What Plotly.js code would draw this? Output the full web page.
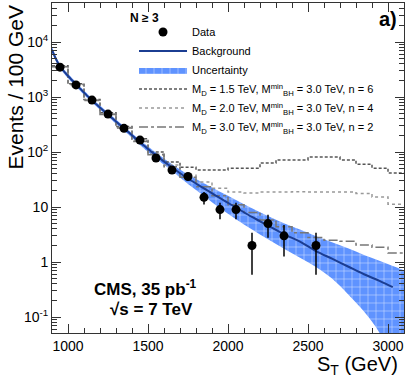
<!DOCTYPE html>
<html>
<head>
<meta charset="utf-8">
<script src="https://cdn.plot.ly/plotly-3.0.1.min.js"></script>
<style>
  html, body { margin: 0; padding: 0; background: #fff; }
  #chart { width: 407px; height: 384px; }
</style>
</head>
<body>
<div id="chart"></div>
<script>
// data points (bin centres, events per 100 GeV)
var dataX = [950, 1050, 1150, 1250, 1350, 1450, 1550, 1650, 1750, 1850, 1950, 2050, 2150, 2250, 2350, 2550];
var dataY = [3500, 1660, 880, 490, 270, 165, 78, 47, 36, 15, 9, 9, 2, 5, 3, 2];

// background fit and its uncertainty
var bkgX = [900, 950, 1050, 1150, 1250, 1350, 1450, 1550, 1650, 1750, 1850, 1950, 2050, 2150, 2250, 2350, 2450, 2550, 2650, 2750, 2850, 2950, 3030];
var bkgY = [7240, 3630, 1700, 870, 480, 270, 151, 87, 52.5, 33, 21.9, 14.5, 9.8, 6.6, 4.6, 3.2, 2.35, 1.58, 1.15, 0.83, 0.60, 0.45, 0.35];
var bandX = [900, 950, 1050, 1150, 1250, 1350, 1450, 1550, 1650, 1750, 1850, 1950, 2050, 2150, 2250, 2350, 2450, 2550, 2650, 2750, 2850, 2950, 3030, 3100];
var bandHi = [8130, 3980, 1860, 955, 525, 295, 166, 98, 60, 39, 27, 19, 13.5, 9.5, 6.9, 5.1, 3.9, 2.95, 2.3, 1.78, 1.35, 1.05, 0.85, 0.71];
var bandLo = [6460, 3310, 1550, 795, 437, 245, 135, 76, 45, 26.3, 15.8, 9.5, 6.0, 3.9, 2.6, 1.74, 1.2, 0.81, 0.5, 0.26, 0.126, 0.05, 0.016, 0.004];

// black hole signal + background, 100 GeV bins (low edges)
var sigEdges = [900, 1000, 1100, 1200, 1300, 1400, 1500, 1600, 1700, 1800, 1900, 2000, 2100, 2200, 2300, 2400, 2500, 2600, 2700, 2800, 2900, 3000];
var sigN6 = [3700, 1750, 900, 520, 290, 175, 100, 66, 53, 47, 47, 51, 51, 63, 72, 72, 81, 81, 72, 60, 51, 41.5];
var sigN4 = [3600, 1700, 880, 490, 280, 160, 92, 58, 38, 28.5, 22, 18.7, 18, 18.7, 18.7, 18.9, 18.7, 18.7, 18.7, 17.7, 15.2, 11.3];
var sigN2 = [3550, 1700, 870, 480, 275, 155, 89, 54, 35, 23.5, 16, 11, 8, 5.8, 4.4, 3.4, 2.8, 2.5, 2.4, 2.05, 1.85, 1.46];
var binTop = 3100;

var yTickVals = [0.1, 1, 10, 100, 1000, 10000];
var yTickText = ['10<sup>-1</sup>', '1', '10', '10<sup>2</sup>', '10<sup>3</sup>', '10<sup>4</sup>'];

// minor ticks 2..9 in every decade
var yMinor = [];
for (let d = -2; d <= 4; d++) {
  for (let k = 2; k <= 9; k++) { yMinor.push(k * Math.pow(10, d)); }
}

var FONT = 'Liberation Sans, Arial, sans-serif';

// step line needs one extra point at the upper edge of the last bin
function stepTrace(vals, name, dash, color, rank) {
  return {
    type: 'scatter', mode: 'lines',
    x: sigEdges.concat([binTop]), y: vals.concat([vals[vals.length - 1]]),
    line: {shape: 'hv', dash: dash, color: color, width: 1.5},
    name: name, legendrank: rank
  };
}

var BLUE = '#5f93ff';

var lo = {type: 'scatter', mode: 'lines', x: bandX, y: bandLo,
  line: {width: 0, shape: 'spline', color: BLUE}, showlegend: false, hoverinfo: 'skip'};
var hi = {type: 'scatter', mode: 'lines', x: bandX, y: bandHi,
  line: {width: 0, shape: 'spline', color: BLUE}, fill: 'tonexty',
  fillcolor: BLUE,
  fillpattern: {shape: '+', fgcolor: '#ffffff', fgopacity: 0.75, size: 8, solidity: 0.12, fillmode: 'overlay'},
  name: 'Uncertainty', legendrank: 3};

var bkg = {type: 'scatter', mode: 'lines', x: bkgX, y: bkgY,
  line: {color: '#1b3d92', width: 2, shape: 'spline'}, name: 'Background', legendrank: 2};

var pts = {type: 'scatter', mode: 'markers', x: dataX, y: dataY,
  marker: {color: '#000', size: 9},
  error_y: {type: 'data', array: dataY.map(Math.sqrt), color: '#000', thickness: 1.5, width: 0},
  name: 'Data', legendrank: 1};

var traces = [
  lo, hi,
  stepTrace(sigN6, 'M<sub>D</sub> = 1.5 TeV, M<sup>min</sup><sub>BH</sub> = 3.0 TeV, n = 6', '3px,2px', '#555', 4),
  stepTrace(sigN4, 'M<sub>D</sub> = 2.0 TeV, M<sup>min</sup><sub>BH</sub> = 3.0 TeV, n = 4', 'dot', '#999', 5),
  stepTrace(sigN2, 'M<sub>D</sub> = 3.0 TeV, M<sup>min</sup><sub>BH</sub> = 3.0 TeV, n = 2', 'dashdot', '#777', 6),
  bkg, pts
];

var layout = {
  width: 407, height: 384,
  margin: {l: 52, r: 3, t: 3, b: 51},
  paper_bgcolor: '#fff', plot_bgcolor: '#fff',
  font: {family: FONT, color: '#000', size: 14},
  showlegend: true,
  legend: {x: 0.233, y: 0.956, xanchor: 'left', yanchor: 'top', bgcolor: 'rgba(0,0,0,0)',
    traceorder: 'normal', font: {size: 11, family: FONT}, itemwidth: 48, tracegroupgap: 0},
  xaxis: {range: [900, 3100], tickvals: [1000, 1500, 2000, 2500, 3000],
    ticks: 'inside', ticklen: 9, tickcolor: '#333', mirror: 'ticks',
    showline: true, linecolor: '#333', linewidth: 1, showgrid: false, zeroline: false,
    tickfont: {size: 14},
    minor: {dtick: 100, ticks: 'inside', ticklen: 5, tickcolor: '#333', showgrid: false}},
  yaxis: {type: 'log', range: [-1.29, 4.71], tickvals: yTickVals, ticktext: yTickText,
    ticks: 'inside', ticklen: 9, tickcolor: '#333', mirror: 'ticks',
    showline: true, linecolor: '#333', linewidth: 1, showgrid: false, zeroline: false,
    tickfont: {size: 14},
    minor: {tickvals: yMinor, ticks: 'inside', ticklen: 5, tickcolor: '#333', showgrid: false}},
  annotations: [
    {text: 'Events / 100 GeV', xref: 'paper', yref: 'paper', x: -0.105, y: 1.0,
      xanchor: 'center', yanchor: 'top', textangle: -90, showarrow: false, font: {size: 21}},
    {text: 'S<sub>T</sub> (GeV)', xref: 'paper', yref: 'paper', x: 0.99, y: -0.055,
      xanchor: 'right', yanchor: 'top', showarrow: false, font: {size: 20}},
    {text: '<b>N ≥ 3</b>', xref: 'paper', yref: 'paper', x: 0.264, y: 0.955,
      xanchor: 'center', yanchor: 'middle', showarrow: false, font: {size: 12}},
    {text: '<b>a)</b>', xref: 'paper', yref: 'paper', x: 0.955, y: 0.952,
      xanchor: 'center', yanchor: 'middle', showarrow: false, font: {size: 20}},
    {text: '<b>CMS, 35 pb<sup>-1</sup></b>', xref: 'paper', yref: 'paper', x: 0.267, y: 0.135,
      xanchor: 'center', yanchor: 'middle', showarrow: false, font: {size: 17}},
    {text: '<b>√s = 7 TeV</b>', xref: 'paper', yref: 'paper', x: 0.284, y: 0.07,
      xanchor: 'center', yanchor: 'middle', showarrow: false, font: {size: 17}}
  ]
};

Plotly.newPlot('chart', traces, layout, {displayModeBar: false, responsive: false});
</script>
</body>
</html>
